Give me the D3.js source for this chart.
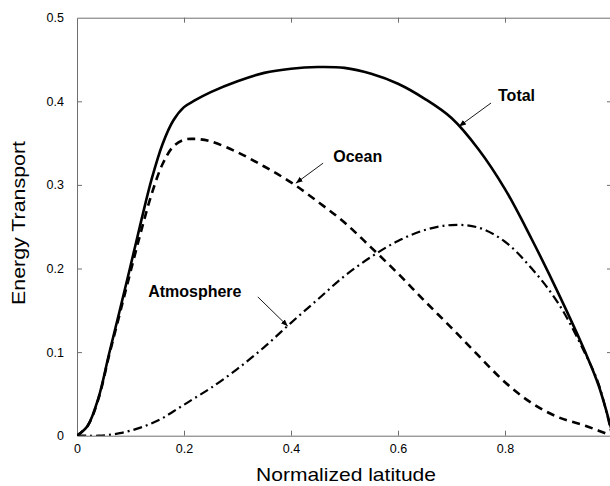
<!DOCTYPE html>
<html>
<head>
<meta charset="utf-8">
<script src="https://cdn.jsdelivr.net/npm/d3@7/dist/d3.min.js"></script>
<style>
  html, body { margin: 0; padding: 0; background: #fff; }
  svg { display: block; font-family: "Liberation Sans", Arial, Helvetica, sans-serif; }
</style>
</head>
<body>
<svg id="chart" width="610" height="486"></svg>
<script>
// ---- data ----
const latitude = [0, 0.02, 0.04, 0.06, 0.08, 0.10, 0.12, 0.14, 0.16, 0.18, 0.20, 0.22, 0.25, 0.30, 0.35, 0.40, 0.45, 0.50, 0.55, 0.60, 0.65, 0.70, 0.75, 0.80, 0.85, 0.90, 0.95, 0.975, 1.0];
const total      = [0, 0.012, 0.045, 0.098, 0.150, 0.203, 0.257, 0.308, 0.349, 0.377, 0.393, 0.401, 0.411, 0.424, 0.434, 0.439, 0.441, 0.440, 0.433, 0.421, 0.403, 0.380, 0.343, 0.295, 0.235, 0.170, 0.100, 0.060, 0.005];
const ocean      = [0, 0.012, 0.044, 0.096, 0.146, 0.196, 0.245, 0.290, 0.325, 0.346, 0.354, 0.355, 0.352, 0.339, 0.322, 0.303, 0.280, 0.255, 0.225, 0.194, 0.161, 0.129, 0.096, 0.064, 0.039, 0.022, 0.012, 0.006, 0];
const atmosphere = [0, 0.000, 0.000, 0.001, 0.003, 0.006, 0.010, 0.015, 0.021, 0.029, 0.037, 0.045, 0.057, 0.080, 0.106, 0.135, 0.163, 0.191, 0.214, 0.233, 0.246, 0.252, 0.249, 0.232, 0.200, 0.158, 0.098, 0.062, 0];
const xTicks = [0, 0.2, 0.4, 0.6, 0.8];
const yTicks = [0, 0.1, 0.2, 0.3, 0.4, 0.5];
const xTickLabels = ["0", "0.2", "0.4", "0.6", "0.8"];
const yTickLabels = ["0", "0.1", "0.2", "0.3", "0.4", "0.5"];
// annotations: label, text anchor point, arrow start, arrow tip (data units)
const annoLabels = ["Total", "Ocean", "Atmosphere"];
const annoTextPos = [[0.787, 0.400], [0.479, 0.327], [0.133, 0.166]];
const annoFrom = [[0.774, 0.398], [0.460, 0.326], [0.338, 0.166]];
const annoTo = [[0.714, 0.370], [0.409, 0.302], [0.394, 0.131]];

// ---- layout ----
const svg = d3.select("#chart");
const L = 77, R = 612, T = 17.7, B = 435.7;
const x = d3.scaleLinear().domain([0, 1]).range([L, R]);
const y = d3.scaleLinear().domain([0, 0.5]).range([B, T]);

svg.append("defs").append("clipPath").attr("id", "clip")
  .append("rect").attr("x", L).attr("y", T - 2).attr("width", R - L).attr("height", B - T + 2);
svg.append("defs").append("marker").attr("id", "arrow")
  .attr("viewBox", "0 0 10 10").attr("refX", 10).attr("refY", 5)
  .attr("markerWidth", 7).attr("markerHeight", 7).attr("markerUnits", "userSpaceOnUse")
  .attr("orient", "auto")
  .append("path").attr("d", "M0,1 L10,5 L0,9 Z").attr("fill", "#000");

const axisColor = "#6e6e6e";

// axes
const xAxis = d3.axisBottom(x).tickValues(xTicks).tickFormat((d, i) => xTickLabels[i]).tickSizeInner(-5).tickSizeOuter(0).tickPadding(8);
const gx = svg.append("g").attr("transform", `translate(0,${B})`).call(xAxis);
const xTop = d3.axisTop(x).tickValues(xTicks).tickFormat("").tickSizeInner(-5).tickSizeOuter(0);
const gxt = svg.append("g").attr("transform", `translate(0,${T})`).call(xTop);
const yAxis = d3.axisLeft(y).tickValues(yTicks).tickFormat((d, i) => yTickLabels[i]).tickSizeInner(-5).tickSizeOuter(0).tickPadding(13);
const gy = svg.append("g").attr("transform", `translate(${L},0)`).call(yAxis);
const yRight = d3.axisRight(y).tickValues(yTicks).tickFormat("").tickSizeInner(-4).tickSizeOuter(0);
const gyr = svg.append("g").attr("transform", `translate(${R - 1},0)`).call(yRight);

[gx, gxt, gy, gyr].forEach(g => {
  g.selectAll("path.domain").attr("stroke", axisColor).attr("stroke-width", 1);
  g.selectAll(".tick line").attr("stroke", axisColor).attr("stroke-width", 1);
  g.selectAll(".tick text").attr("fill", "#000").attr("font-size", 12.5)
    .attr("font-family", "'Liberation Sans', Arial, sans-serif");
});
gx.selectAll(".tick line").filter(d => d === 0).remove();
gxt.selectAll(".tick line").filter(d => d === 0).remove();
gy.selectAll(".tick line").filter(d => d === 0 || d === 0.5).remove();
gyr.selectAll(".tick line").filter(d => d === 0 || d === 0.5).remove();

// curves
const line = d3.line().x((d, i) => x(latitude[i])).y(d => y(d)).curve(d3.curveCatmullRom.alpha(0.5));
const plot = svg.append("g").attr("clip-path", "url(#clip)");
plot.append("path").datum(atmosphere).attr("d", line).attr("fill", "none")
  .attr("stroke", "#000").attr("stroke-width", 2.2).attr("stroke-dasharray", "9,4,2,4");
plot.append("path").datum(ocean).attr("d", line).attr("fill", "none")
  .attr("stroke", "#000").attr("stroke-width", 2.6).attr("stroke-dasharray", "8,5.5");
plot.append("path").datum(total).attr("d", line).attr("fill", "none")
  .attr("stroke", "#000").attr("stroke-width", 2.6);

// annotations
annoLabels.forEach((lab, i) => {
  svg.append("line")
    .attr("x1", x(annoFrom[i][0])).attr("y1", y(annoFrom[i][1]))
    .attr("x2", x(annoTo[i][0])).attr("y2", y(annoTo[i][1]))
    .attr("stroke", "#000").attr("stroke-width", 0.9).attr("marker-end", "url(#arrow)");
  svg.append("text").attr("x", x(annoTextPos[i][0])).attr("y", y(annoTextPos[i][1]))
    .attr("font-size", 16).attr("font-weight", "bold").attr("fill", "#000").text(lab);
});

// axis titles
svg.append("text").attr("x", 346).attr("y", 481).attr("text-anchor", "middle")
  .attr("font-size", 18.5).attr("textLength", 180).attr("lengthAdjust", "spacingAndGlyphs")
  .attr("fill", "#000").text("Normalized latitude");
svg.append("text").attr("transform", "translate(25,223) rotate(-90)").attr("text-anchor", "middle")
  .attr("font-size", 19).attr("textLength", 164).attr("lengthAdjust", "spacingAndGlyphs")
  .attr("fill", "#000").text("Energy Transport");
</script>
</body>
</html>
